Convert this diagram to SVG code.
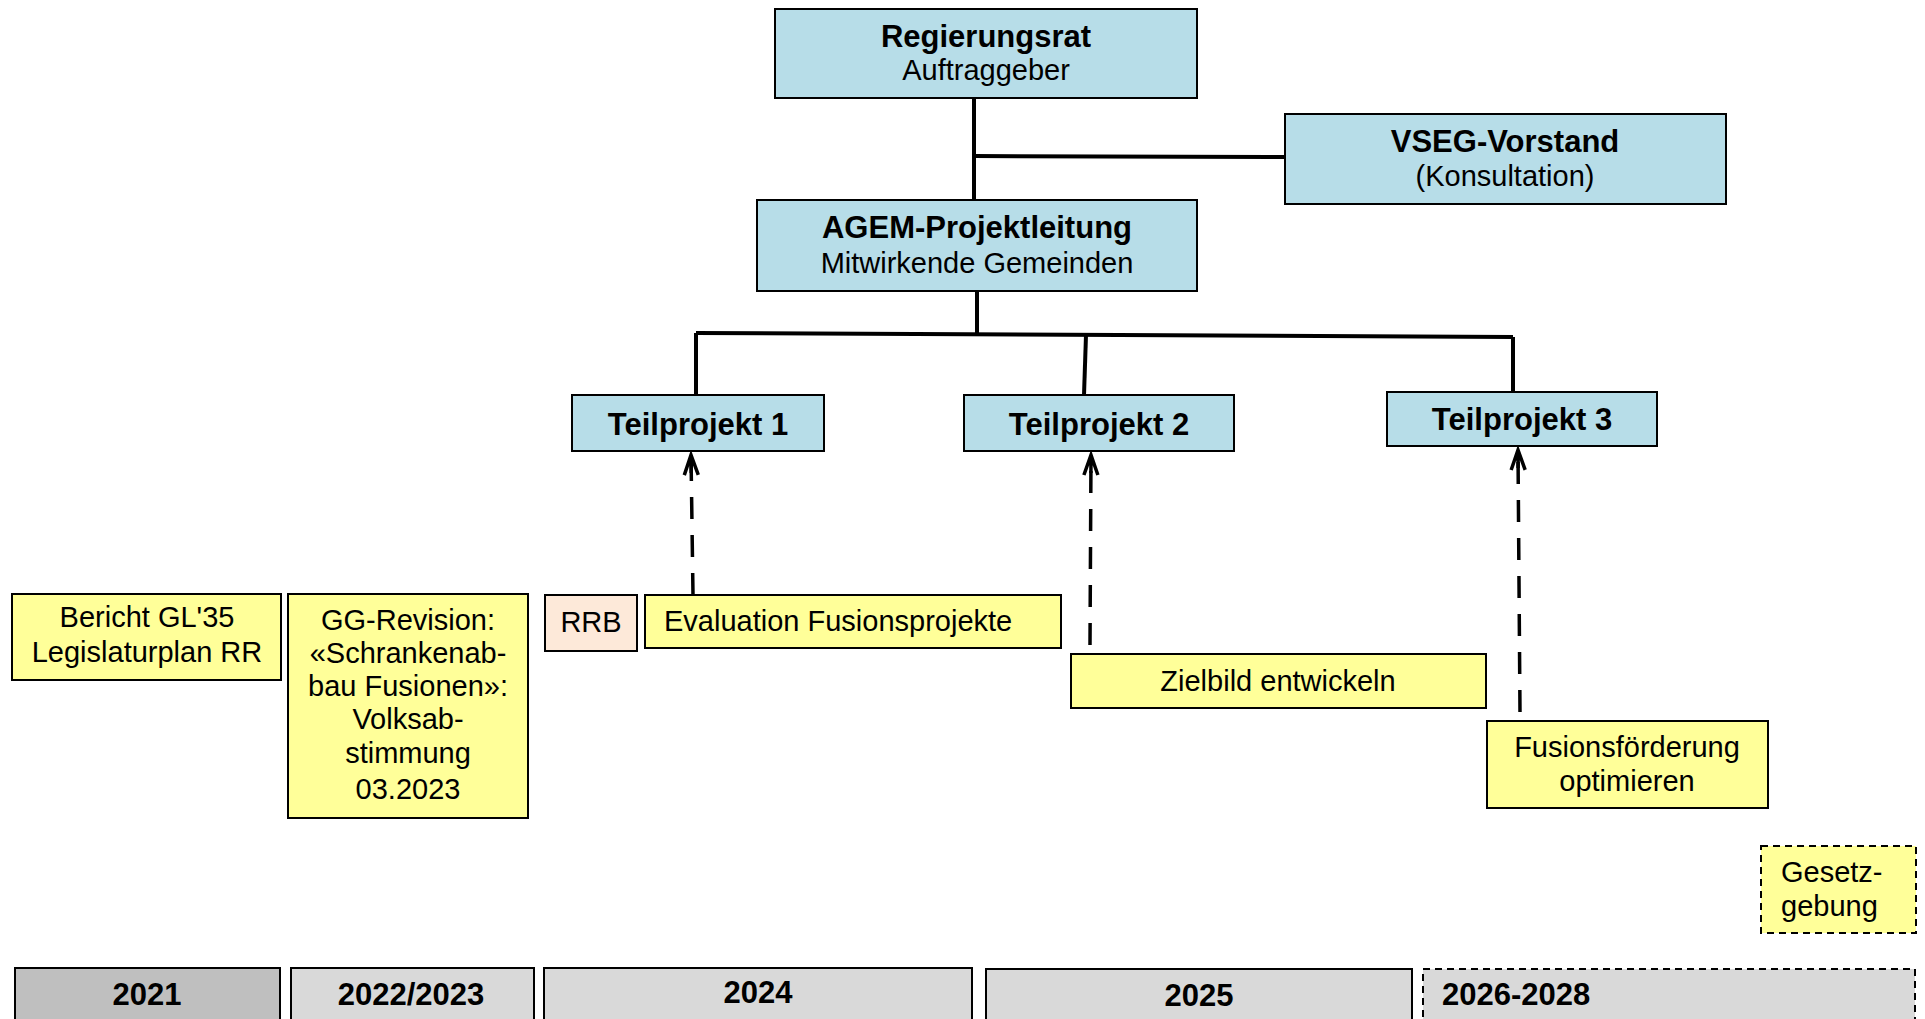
<svg xmlns="http://www.w3.org/2000/svg" width="1925" height="1019" viewBox="0 0 1925 1019">
<defs>
<style>
text{font-family:"Liberation Sans",Arial,sans-serif;font-size:29px;fill:#000;dominant-baseline:central}
.b{font-weight:bold;font-size:31px}
.c{text-anchor:middle}
.blue{fill:#b7dde8;stroke:#000;stroke-width:2}
.yel{fill:#ffff99;stroke:#000;stroke-width:2}
.peach{fill:#fde9d9;stroke:#000;stroke-width:2}
.bar{fill:#d9d9d9;stroke:#000;stroke-width:2}
.dash{stroke-dasharray:7 5}
.ln{stroke:#000;stroke-width:4;fill:none}
.da{stroke:#000;stroke-width:3.5;fill:none;stroke-dasharray:22 16}
</style>
<marker id="arr" markerWidth="26" markerHeight="18" refX="22" refY="9" orient="auto" markerUnits="userSpaceOnUse" viewBox="0 0 26 18">
<path d="M2,2 L22,9 L2,16 M22,9 L4,9" fill="none" stroke="#000" stroke-width="3.5"/>
</marker>
</defs>
<rect width="1925" height="1019" fill="#fff"/>
<g id="connectors">
<path class="ln" d="M974,98 V200"/>
<path class="ln" d="M974,156 L1285,157"/>
<path class="ln" d="M977,291 V334"/>
<path class="ln" d="M696,333 L1513,337"/>
<path class="ln" d="M696,333 V395"/>
<path class="ln" d="M1086,335 L1084,395"/>
<path class="ln" d="M1513,337 V392"/>
<path class="da" d="M693,595 L691,455" marker-end="url(#arr)"/>
<path class="da" d="M1090,645 L1091,455" marker-end="url(#arr)"/>
<path class="da" d="M1520,712 L1518,450" marker-end="url(#arr)"/>
</g>
<g id="regierungsrat"><rect class="blue" x="775" y="9" width="422" height="89"/>
<text class="c b" x="986" y="36">Regierungsrat</text><text class="c" x="986" y="70">Auftraggeber</text></g>
<g id="vseg"><rect class="blue" x="1285" y="114" width="441" height="90"/>
<text class="c b" x="1505" y="141">VSEG-Vorstand</text><text class="c" x="1505" y="176">(Konsultation)</text></g>
<g id="agem"><rect class="blue" x="757" y="200" width="440" height="91"/>
<text class="c b" x="977" y="227">AGEM-Projektleitung</text><text class="c" x="977" y="263">Mitwirkende Gemeinden</text></g>
<g id="tp1"><rect class="blue" x="572" y="395" width="252" height="56"/><text class="c b" x="698" y="424">Teilprojekt 1</text></g>
<g id="tp2"><rect class="blue" x="964" y="395" width="270" height="56"/><text class="c b" x="1099" y="424">Teilprojekt 2</text></g>
<g id="tp3"><rect class="blue" x="1387" y="392" width="270" height="54"/><text class="c b" x="1522" y="419">Teilprojekt 3</text></g>
<g id="bericht"><rect class="yel" x="12" y="594" width="269" height="86"/>
<text class="c" x="147" y="617">Bericht GL'35</text><text class="c" x="147" y="652">Legislaturplan RR</text></g>
<g id="gg"><rect class="yel" x="288" y="594" width="240" height="224"/>
<text class="c" x="408" y="620">GG-Revision:</text><text class="c" x="408" y="653">«Schrankenab-</text><text class="c" x="408" y="686">bau Fusionen»:</text><text class="c" x="408" y="719">Volksab-</text><text class="c" x="408" y="753">stimmung</text><text class="c" x="408" y="789">03.2023</text></g>
<g id="rrb"><rect class="peach" x="545" y="595" width="92" height="56"/><text class="c" x="591" y="622">RRB</text></g>
<g id="evaluation"><rect class="yel" x="645" y="595" width="416" height="53"/><text x="664" y="621">Evaluation Fusionsprojekte</text></g>
<g id="zielbild"><rect class="yel" x="1071" y="654" width="415" height="54"/><text class="c" x="1278" y="681">Zielbild entwickeln</text></g>
<g id="fusionsfoerderung"><rect class="yel" x="1487" y="721" width="281" height="87"/>
<text class="c" x="1627" y="747">Fusionsförderung</text><text class="c" x="1627" y="781">optimieren</text></g>
<g id="gesetzgebung"><rect class="yel dash" x="1761" y="846" width="155" height="87"/>
<text x="1781" y="872">Gesetz-</text><text x="1781" y="906">gebung</text></g>
<g id="y2021"><rect class="bar" x="15" y="968" width="265" height="60" style="fill:#bfbfbf"/><text class="c b" x="147" y="994">2021</text></g>
<g id="y2022"><rect class="bar" x="291" y="968" width="243" height="60"/><text class="c b" x="411" y="994">2022/2023</text></g>
<g id="y2024"><rect class="bar" x="544" y="968" width="428" height="60"/><text class="c b" x="758" y="992">2024</text></g>
<g id="y2025"><rect class="bar" x="986" y="969" width="426" height="60"/><text class="c b" x="1199" y="995">2025</text></g>
<g id="y2026"><rect class="bar dash" x="1423" y="969" width="492" height="60"/><text class="b" x="1442" y="994">2026-2028</text></g>
</svg>
